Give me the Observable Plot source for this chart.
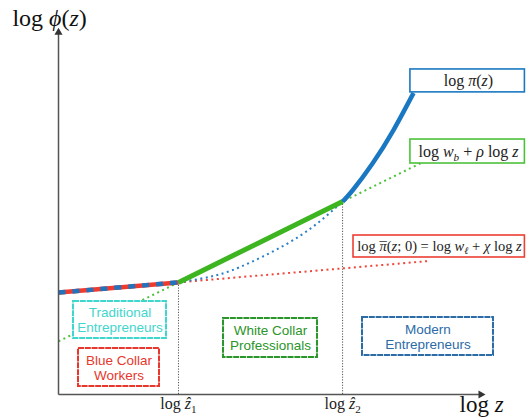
<!DOCTYPE html>
<html><head><meta charset="utf-8">
<script src="https://cdn.jsdelivr.net/npm/d3@7"></script>
<script src="https://cdn.jsdelivr.net/npm/@observablehq/plot@0.6"></script>
<style>body{margin:0;background:#fff} svg{display:block}</style>
</head><body><div id="chart"></div>
<script>
// ---- data (log z on x, log phi(z) on y; arbitrary units) ----
const zHat = [2.83, 6.70];                 // log ẑ1, log ẑ2
const zHatY = [3.08, 5.30];                // value at the kinks
const zHatLabels = ["log ẑ1", "log ẑ2"];
// log π̄(z;0) = log w_ℓ + χ log z  (red)
const wlX = [0, 2.83, 8.77];
const wlY = [2.80, 3.08, 3.67];
// log w_b + ρ log z  (green)
const wbX = [0, 2.83, 6.70, 8.62];
const wbY = [1.46, 3.08, 5.30, 6.40];
// log π(z)  (blue)
const piX = [2.83, 3.70, 4.53, 5.71, 6.70, 6.934, 7.406, 7.901, 8.373];
const piY = [3.08, 3.27, 3.63, 4.37, 5.30, 5.604, 6.346, 7.266, 8.283];
// occupation regions
const regionNames = ["Traditional\nEntrepreneurs", "Blue Collar\nWorkers", "White Collar\nProfessionals", "Modern\nEntrepreneurs"];
const curveLabels = ["log π(z)", "log w_b + ρ log z", "log π̄(z; 0) = log w_ℓ + χ log z"];
const axisLabels = ["log ϕ(z)", "log z"];

// ---- tables ----
const pts = (xs, ys) => xs.map((x, i) => ({x, y: ys[i]}));
const wl = pts(wlX, wlY), wb = pts(wbX, wbY), pi = pts(piX, piY);
const z1 = zHat[0], z2 = zHat[1];

const regionBoxes = [
  {name: regionNames[0], x1: 0.354, x2: 2.547, y1: 1.538, y2: 2.555, c: "#3fd6cd"},
  {name: regionNames[1], x1: 0.472, x2: 2.382, y1: 0.22, y2: 1.264, c: "#e8372d"},
  {name: regionNames[2], x1: 3.892, x2: 6.108, y1: 1.016, y2: 2.088, c: "#2a952a"},
  {name: regionNames[3], x1: 7.170, x2: 10.259, y1: 1.071, y2: 2.115, c: "#2b6ba6"}
];
const labelBoxes = [
  {name: curveLabels[0], x1: 8.30, x2: 11.0, y1: 8.30, y2: 8.93, tx: 9.67, c: "#1a78c2", fs: 16},
  {name: curveLabels[1], x1: 8.30, x2: 11.0, y1: 6.346, y2: 7.005, tx: 9.67, c: "#4cc23a", fs: 16},
  {name: curveLabels[2], x1: 6.958, x2: 11.0, y1: 3.764, y2: 4.368, tx: 8.986, c: "#ec3f35", fs: 14.5}
];

const serif = "'Liberation Serif', 'DejaVu Serif', serif";
const sans = "'Liberation Sans', Arial, sans-serif";

const plot = Plot.plot({
  width: 526, height: 417,
  marginTop: 0, marginRight: 0, marginBottom: 0, marginLeft: 0,
  x: {domain: [0, 10], range: [58, 482], axis: null},
  y: {domain: [0, 10], range: [394, 30], axis: null},
  style: {background: "white", overflow: "visible"},
  marks: [
    // thresholds
    Plot.ruleX(zHat.map((x, i) => ({x, top: zHatY[i]})), {x: "x", y1: 0, y2: "top", stroke: "#555", strokeWidth: 1, strokeDasharray: "1.2,1.5"}),
    // dotted extensions
    Plot.line(wb, {x: "x", y: "y", stroke: "#4cc23a", strokeWidth: 2, strokeDasharray: "2,3.5", strokeLinecap: "butt"}),
    Plot.line(wl.filter(d => d.x >= z1), {x: "x", y: "y", stroke: "#f0473b", strokeWidth: 2, strokeDasharray: "2,3.5", strokeLinecap: "butt"}),
    Plot.line(pi.filter(d => d.x <= z2), {x: "x", y: "y", stroke: "#2a7fc8", strokeWidth: 2, strokeDasharray: "2,3.5", strokeLinecap: "butt", curve: "natural"}),
    // thick pieces
    Plot.line(wl.filter(d => d.x <= z1), {x: "x", y: "y", stroke: "#ee3b30", strokeWidth: 4.5, strokeLinecap: "butt"}),
    Plot.line(wl.filter(d => d.x <= z1), {x: "x", y: "y", stroke: "#1f74bd", strokeWidth: 4.5, strokeDasharray: "7,7", strokeLinecap: "butt"}),
    Plot.line(wb.filter(d => d.x >= z1 && d.x <= z2), {x: "x", y: "y", stroke: "#3cb521", strokeWidth: 5, strokeLinecap: "butt"}),
    Plot.line(pi.filter(d => d.x >= z2), {x: "x", y: "y", stroke: "#1a78c2", strokeWidth: 4.5, strokeLinecap: "butt", curve: "natural"}),
    // axes
    Plot.link([0], {x1: 0, y1: 0, x2: 10, y2: 0, stroke: "#555", strokeWidth: 1.5}),
    Plot.link([0], {x1: 0, y1: 0, x2: 0, y2: 10, stroke: "#555", strokeWidth: 1.5}),
    Plot.dot([0], {x: 9.96, y: 0, symbol: "triangle", r: 3, fill: "#333", rotate: 90}),
    Plot.dot([0], {x: 0, y: 9.95, symbol: "triangle", r: 3, fill: "#333"}),
    // region boxes
    Plot.rect(regionBoxes, {x1: "x1", x2: "x2", y1: "y1", y2: "y2", fill: "white", stroke: "c", strokeWidth: 2, strokeDasharray: "6,0.8"}),
    Plot.text(regionBoxes, {x: d => (d.x1 + d.x2) / 2, y: d => (d.y1 + d.y2) / 2, text: "name", fill: "c", fontSize: 13.5, lineHeight: 1.12, fontFamily: sans}),
    // curve label boxes
    Plot.rect(labelBoxes, {x1: "x1", x2: "x2", y1: "y1", y2: "y2", fill: "white", stroke: "c", strokeWidth: 1.6}),
    Plot.text(labelBoxes, {x: "tx", y: d => (d.y1 + d.y2) / 2, text: "name", fill: "#222", fontSize: d => d.fs, fontFamily: serif}),
    // threshold labels
    Plot.text(zHat, {x: d => d, y: -0.25, text: (d, i) => zHatLabels[i], fill: "#222", fontSize: 16, fontFamily: serif}),
    // axis labels
    Plot.text([axisLabels[0]], {x: -0.21, y: 10.33, text: d => d, fill: "#111", fontSize: 24, fontFamily: serif}),
    Plot.text([axisLabels[1]], {x: 9.98, y: -0.27, text: d => d, fill: "#111", fontSize: 23, fontFamily: serif})
  ]
});

// rich math typesetting of the labels
const I = s => `<tspan font-style="italic">${s}</tspan>`;
const piBar = `<tspan font-style="italic">π</tspan><tspan dx="-7.2" dy="1.2">¯</tspan><tspan dx="0" dy="-1.2">(</tspan>`;
const rich = new Map([
  ["log ϕ(z)", `log ${I("ϕ")}(${I("z")})`],
  ["log z", `log ${I("z")}`],
  ["log ẑ1", `log ${I("ẑ")}<tspan dy="4" font-size="70%">1</tspan>`],
  ["log ẑ2", `log ${I("ẑ")}<tspan dy="4" font-size="70%">2</tspan>`],
  ["log π(z)", `log ${I("π")}(${I("z")})`],
  ["log w_b + ρ log z", `log ${I("w")}<tspan dy="4" font-size="70%" font-style="italic">b</tspan><tspan dy="-4"> + ${I("ρ")} log ${I("z")}</tspan>`],
  ["log π̄(z; 0) = log w_ℓ + χ log z", `log ${piBar}${I("z")}; 0) = log ${I("w")}<tspan dy="3" font-size="70%" font-style="italic">ℓ</tspan><tspan dy="-3"> + ${I("χ")} log ${I("z")}</tspan>`]
]);
d3.select(plot).selectAll("text").each(function() {
  const t = this.textContent;
  if (rich.has(t)) this.innerHTML = rich.get(t);
});
document.getElementById("chart").append(plot);
</script></body></html>
